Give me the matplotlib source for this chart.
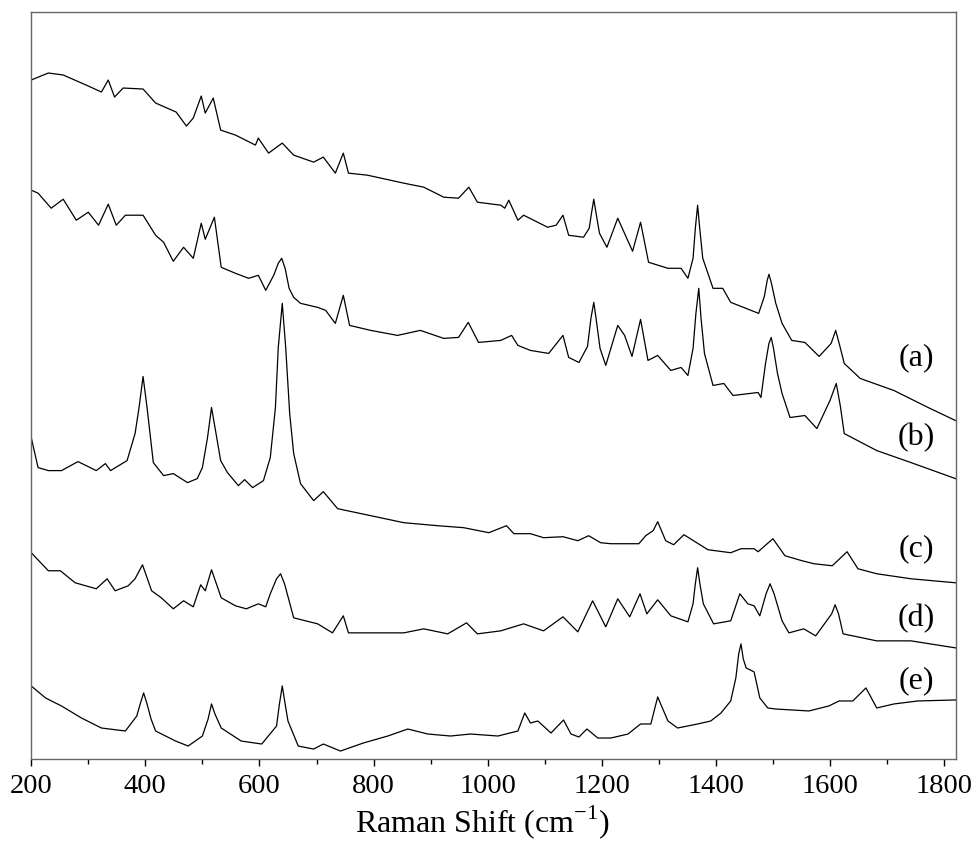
import matplotlib
matplotlib.use("Agg")
import matplotlib.pyplot as plt
from matplotlib.ticker import MultipleLocator

plt.rcParams['font.family'] = ['Liberation Serif', 'DejaVu Serif']
plt.rcParams['mathtext.fontset'] = 'custom'
plt.rcParams['mathtext.rm'] = 'Liberation Serif'

# Raman spectra, intensity in arbitrary units (already offset for stacking)
shift_a = [200, 230, 256, 300, 323, 335, 346, 361, 396, 418, 454, 472, 484, 498, 505, 519, 532, 558, 593, 598,
           616, 640, 660, 695, 712, 733, 747, 756, 789, 853, 888, 923, 949, 967, 982, 1023, 1030, 1037, 1053, 1063,
           1105, 1120, 1132, 1142, 1168, 1178, 1182, 1186, 1190, 1196, 1209, 1228, 1254, 1268, 1282, 1316, 1339,
           1351, 1360, 1364, 1368, 1372, 1377, 1395, 1412, 1426, 1475, 1485, 1490, 1493, 1497, 1505, 1516, 1533,
           1556, 1581, 1602, 1610, 1617, 1625, 1653, 1712, 1772, 1820]
int_a = [678, 685, 683, 672, 666, 678, 661, 670, 669, 655, 646, 632, 640, 662, 645, 660, 628, 623, 613, 620,
         605, 615, 603, 596, 601, 585, 605, 585, 583, 575, 571, 561, 560, 571, 556, 553, 550, 558, 538, 543,
         531, 533, 543, 523, 521, 530, 545, 559, 545, 525, 511, 540, 507, 536, 496, 490, 490,
         480, 500, 530, 553, 528, 500, 470, 470, 456, 445, 462, 478, 484, 476, 455, 435, 418,
         416, 402, 415, 428, 413, 395, 380, 368, 351, 338]

shift_b = [200, 212, 235, 256, 279, 300, 318, 335, 349, 365, 396, 418, 432, 449, 467, 484, 498, 505, 521, 533,
           558, 581, 598, 611, 625, 633, 639, 645, 652, 660, 672, 702, 716, 733, 747, 758, 795, 842, 882, 923,
           949, 966, 984, 1023, 1042, 1053, 1075, 1107, 1132, 1142, 1160, 1175, 1181, 1186, 1190, 1197, 1207,
           1228, 1240, 1253, 1268, 1281, 1298, 1321, 1339, 1351, 1360, 1365, 1370, 1374, 1380, 1395, 1414, 1430,
           1474, 1479, 1487, 1493, 1497, 1501, 1508, 1516, 1530, 1556, 1577, 1600, 1611, 1618, 1625, 1682, 1742,
           1820]
int_b = [568, 565, 550, 559, 538, 546, 533, 554, 533, 543, 543, 523, 516, 497, 511, 500, 535, 519, 541, 491,
         485, 480, 483, 468, 483, 495, 500, 490, 470, 461, 455, 451, 448, 435, 463, 433, 428, 423, 428, 420,
         421, 436, 416, 418, 423, 413, 408, 405, 423, 401, 396, 412, 440, 456, 440, 410, 393,
         433, 423, 402, 439, 398, 403, 388, 391, 383, 410, 445, 470, 440, 405, 373, 375, 363,
         366, 361, 395, 415, 421, 410, 385, 365, 341, 343, 330, 358, 375, 353, 325, 308, 296,
         280]

shift_c = [200, 212, 230, 253, 282, 314, 330, 339, 368, 382, 389, 396, 403, 409, 414, 432, 449, 474, 491, 500,
           509, 516, 523, 532, 544, 563, 574, 588, 607, 619, 628, 633, 640, 646, 653, 660, 672, 695, 712, 737,
           795, 853, 912, 958, 1002, 1033, 1046, 1075, 1098, 1132, 1158, 1177, 1198, 1216, 1265, 1277, 1290,
           1298, 1312, 1326, 1344, 1386, 1426, 1444, 1467, 1474, 1500, 1521, 1551, 1572, 1604, 1630, 1649, 1682,
           1742, 1820]
int_c = [321, 291, 288, 288, 297, 288, 295, 288, 298, 325, 351, 382, 351, 321, 296, 283, 285, 276, 280, 291,
         321, 351, 328, 298, 286, 273, 279, 271, 278, 301, 351, 411, 455, 411, 345, 305, 275, 258, 267, 250,
         243, 236, 233, 231, 226, 233, 225, 225, 221, 222, 218, 223, 216, 215, 215, 223, 228,
         237, 218, 214, 224, 209, 206, 210, 210, 207, 220, 203, 198, 195, 193, 207, 190, 185,
         180, 176]

shift_d = [200, 230, 251, 277, 314, 333, 347, 370, 382, 395, 411, 428, 449, 467, 484, 497, 505, 516, 533, 558,
           577, 598, 611, 619, 630, 637, 644, 660, 702, 728, 747, 756, 853, 888, 930, 963, 982, 1023, 1040, 1063,
           1098, 1132, 1158, 1184, 1207, 1228, 1249, 1267, 1279, 1298, 1321, 1351, 1360, 1364, 1368, 1372, 1378,
           1396, 1426, 1442, 1456, 1467, 1477, 1488, 1495, 1502, 1516, 1528, 1554, 1575, 1603, 1609, 1615, 1623,
           1682, 1742, 1820]
int_d = [206, 188, 188, 176, 170, 180, 168, 173, 180, 194, 168, 161, 150, 158, 152, 174, 168, 189, 161, 153,
         150, 155, 152, 165, 180, 185, 175, 141, 135, 126, 143, 126, 126, 130, 125, 136, 125, 128, 131, 135,
         128, 142, 127, 158, 132, 160, 142, 165, 145, 159, 143, 137, 155, 175, 191, 175, 155,
         135, 138, 165, 155, 153, 143, 165, 175, 165, 138, 126, 130, 123, 145, 154, 145, 125,
         118, 118, 111]

shift_e = [200, 225, 253, 288, 323, 365, 385, 391, 397, 403, 410, 418, 453, 475, 500, 510, 516, 522, 533, 568,
           604, 630, 635, 640, 645, 650, 668, 695, 712, 742, 782, 825, 860, 895, 935, 970, 1018, 1053, 1065,
           1075, 1088, 1111, 1133, 1146, 1160, 1174, 1193, 1216, 1246, 1268, 1286, 1298, 1316, 1333, 1368, 1391,
           1409, 1426, 1435, 1440, 1444, 1448, 1453, 1467, 1477, 1491, 1504, 1563, 1598, 1616, 1640, 1663, 1682,
           1712, 1754, 1820]
int_e = [73, 61, 53, 41, 31, 28, 43, 55, 66, 55, 40, 28, 18, 13, 23, 40, 55, 45, 31, 18,
         15, 33, 55, 73, 55, 38, 13, 10, 15, 8, 16, 23, 30, 25, 23, 25, 23, 28, 46,
         36, 38, 26, 39, 25, 22, 30, 21, 21, 25, 35, 35, 62, 38, 31, 35, 38,
         46, 58, 81, 105, 115, 100, 91, 87, 61, 51, 50, 48, 53, 58, 58, 71, 51,
         55, 58, 59]

labels = ['(a)', '(b)', '(c)', '(d)', '(e)']
label_y = [401, 321, 210, 140, 78]

fig = plt.figure(figsize=(9.76, 8.5), dpi=100)
ax = fig.add_axes([0.032, 0.107, 0.947, 0.879])

for sx, sy in [(shift_a, int_a), (shift_b, int_b), (shift_c, int_c), (shift_d, int_d), (shift_e, int_e)]:
    ax.plot(sx, sy, color='black', lw=0.9)

for lab, ly in zip(labels, label_y):
    ax.text(1751, ly, lab, fontsize=23, ha='center', va='center')

ax.set_xlim(200, 1820)
ax.set_ylim(0, 746)
ax.set_yticks([])
ax.xaxis.set_major_locator(MultipleLocator(200))
ax.xaxis.set_minor_locator(MultipleLocator(100))
ax.tick_params(axis='x', which='major', direction='out', length=5, width=1, labelsize=20.5, pad=6)
ax.tick_params(axis='x', which='minor', direction='out', length=3.5, width=1)
for sp in ax.spines.values():
    sp.set_color('#666666')
    sp.set_linewidth(1)

fig.text(482 / 976, 1 - 822 / 850, 'Raman Shift (cm$^{\\mathrm{-1}}$)', fontsize=23, ha='center', va='center')

fig.savefig('out.png', dpi=100)
